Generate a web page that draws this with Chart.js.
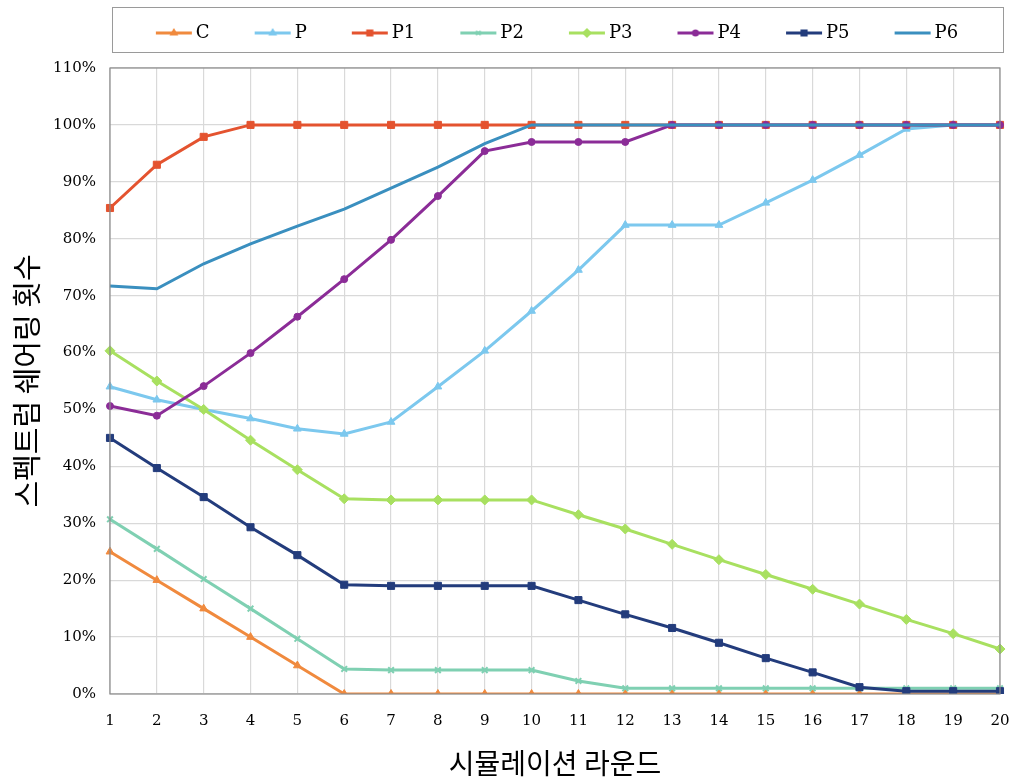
<!DOCTYPE html>
<html lang="ko">
<head>
    <meta charset="UTF-8">
    <title>스펙트럼 쉐어링 횟수</title>
    <script src="https://cdn.jsdelivr.net/npm/chart.js"></script>
    <style>
        html, body { margin: 0; padding: 0; background: #fff; overflow: hidden; }
        #wrap { width: 1014px; height: 780px; }
    </style>
</head>
<body>
    <div id="wrap"><canvas id="shareChart"></canvas></div>
    <script>
        // simulation rounds (x categories)
        const rounds = ['1', '2', '3', '4', '5', '6', '7', '8', '9', '10',
                        '11', '12', '13', '14', '15', '16', '17', '18', '19', '20'];
        const seriesNames = ['C', 'P', 'P1', 'P2', 'P3', 'P4', 'P5', 'P6'];

        // values in percent
        const cVals  = [25, 20, 15, 10, 5, 0, 0, 0, 0, 0, 0, 0, 0, 0, 0, 0, 0, 0, 0, 0];
        const pVals  = [54, 51.7, 50, 48.4, 46.6, 45.7, 47.8, 54, 60.3, 67.3, 74.5, 82.4, 82.4, 82.4, 86.3, 90.3, 94.7, 99.3, 100, 100];
        const p1Vals = [85.4, 93, 97.9, 100, 100, 100, 100, 100, 100, 100, 100, 100, 100, 100, 100, 100, 100, 100, 100, 100];
        const p2Vals = [30.7, 25.5, 20.2, 15, 9.7, 4.4, 4.2, 4.2, 4.2, 4.2, 2.3, 1, 1, 1, 1, 1, 1, 1, 1, 1];
        const p3Vals = [60.3, 55, 50, 44.6, 39.4, 34.3, 34.1, 34.1, 34.1, 34.1, 31.5, 29, 26.3, 23.6, 21, 18.4, 15.8, 13.1, 10.6, 7.9];
        const p4Vals = [50.6, 48.9, 54.1, 59.9, 66.3, 72.9, 79.8, 87.5, 95.4, 97, 97, 97, 100, 100, 100, 100, 100, 100, 100, 100];
        const p5Vals = [45, 39.7, 34.6, 29.3, 24.4, 19.2, 19, 19, 19, 19, 16.5, 14, 11.6, 9, 6.3, 3.8, 1.2, 0.5, 0.5, 0.5];
        const p6Vals = [71.7, 71.2, 75.6, 79.1, 82.2, 85.2, 88.9, 92.6, 96.7, 100, 100, 100, 100, 100, 100, 100, 100, 100, 100, 100];

        const allVals = [cVals, pVals, p1Vals, p2Vals, p3Vals, p4Vals, p5Vals, p6Vals];
        const colors  = ['#F08A3E', '#7CC8EE', '#E4532F', '#7FD0B2', '#A8E060', '#8B2C97', '#233C7C', '#3A8FBF'];
        const markers = ['triangle', 'triangle', 'rect', 'crossRot', 'rectRot', 'circle', 'rect', false];
        const radii   = [4.5, 4.5, 5, 4, 5, 3.5, 5, 0];

        const serifFont = "'DejaVu Serif', 'Liberation Serif', serif";
        const koFont = "'Noto Sans CJK KR', sans-serif";

        // legend swatch: line + marker, a bit wider than the legend box so it sits close to the text
        const boxW = 52;
        function makeSwatch(i) {
            const c = document.createElement('canvas');
            c.width = boxW + 12; c.height = 14;
            const g = c.getContext('2d');
            const x1 = c.width - 1, x0 = x1 - 36, mid = (x0 + x1) / 2;
            g.strokeStyle = colors[i];
            g.lineWidth = 3;
            g.beginPath(); g.moveTo(x0, 7); g.lineTo(x1, 7); g.stroke();
            if (markers[i] && Chart.helpers && Chart.helpers.drawPoint) {
                g.fillStyle = colors[i];
                g.lineWidth = 1.5;
                Chart.helpers.drawPoint(g, { pointStyle: markers[i], radius: radii[i] * 0.8, rotation: 0, borderWidth: 1.5 }, mid, 7);
                g.fill();
            }
            return c;
        }
        const swatches = seriesNames.map((n, i) => makeSwatch(i));

        const datasets = seriesNames.map((name, i) => ({
            label: name,
            data: allVals[i],
            borderColor: colors[i],
            backgroundColor: colors[i],
            borderWidth: 3,
            pointStyle: markers[i],
            pointRadius: radii[i],
            pointBorderWidth: markers[i] === 'crossRot' ? 2 : 1,
            tension: 0,
            order: seriesNames.length - 1 - i
        }));

        // legend box position and frame round the plot area / legend
        const legendBox = { left: 112, right: 1003, top: 8, bottom: 53 };
        const framePlugin = {
            id: 'frame',
            beforeInit(chart) {
                const fit = chart.legend.fit;
                chart.legend.fit = function () {
                    fit.bind(chart.legend)();
                    this.height = 68;
                };
            },
            afterLayout(chart) {
                // items are centred with a trailing gap, so start the legend a bit further left
                const lg = chart.legend;
                lg.left = legendBox.left - 22;
                lg.right = legendBox.right;
                lg.width = lg.right - lg.left;
            },
            afterDraw(chart) {
                const { ctx, chartArea } = chart;
                ctx.save();
                ctx.strokeStyle = '#8c8c8c';
                ctx.lineWidth = 1.2;
                ctx.strokeRect(chartArea.left, chartArea.top, chartArea.right - chartArea.left, chartArea.bottom - chartArea.top);
                ctx.strokeStyle = '#9a9a9a';
                ctx.lineWidth = 1;
                ctx.strokeRect(legendBox.left + 0.5, legendBox.top - 0.5, legendBox.right - legendBox.left, legendBox.bottom - legendBox.top);
                ctx.restore();
            }
        };

        const shareChart = new Chart(document.getElementById('shareChart'), {
            type: 'line',
            data: { labels: rounds, datasets: datasets },
            options: {
                responsive: true,
                maintainAspectRatio: false,
                animation: false,
                layout: { padding: { left: 0, right: 14, top: 0, bottom: 0 } },
                plugins: {
                    legend: {
                        position: 'top',
                        labels: {
                            usePointStyle: true,
                            pointStyleWidth: boxW,
                            padding: 24,
                            color: '#000',
                            font: { family: serifFont, size: 18 },
                            sort: (a, b) => a.datasetIndex - b.datasetIndex,
                            generateLabels(chart) {
                                const items = Chart.defaults.plugins.legend.labels.generateLabels(chart);
                                items.forEach(it => { it.pointStyle = swatches[it.datasetIndex]; });
                                return items;
                            }
                        }
                    },
                    tooltip: { enabled: false }
                },
                scales: {
                    x: {
                        offset: false,
                        afterFit(scale) {
                            scale.height = 86;
                            scale.paddingLeft = 0;
                            scale.paddingRight = 0;
                        },
                        grid: { color: '#d9d9d9', lineWidth: 1.2, drawTicks: false },
                        border: { display: false },
                        ticks: { color: '#000', font: { family: serifFont, size: 15 }, padding: 18, maxRotation: 0 },
                        title: {
                            display: true,
                            text: '시뮬레이션 라운드',
                            color: '#000',
                            font: { family: koFont, size: 28 },
                            padding: { top: 8, bottom: 0 }
                        }
                    },
                    y: {
                        min: 0,
                        max: 110,
                        afterFit(scale) { scale.width = 110; },
                        grid: { color: '#d9d9d9', lineWidth: 1.2, drawTicks: false },
                        border: { display: false },
                        ticks: {
                            stepSize: 10,
                            color: '#000',
                            font: { family: serifFont, size: 15 },
                            padding: 14,
                            callback: v => v + '%'
                        },
                        title: {
                            display: true,
                            text: '스펙트럼 쉐어링 횟수',
                            color: '#000',
                            font: { family: koFont, size: 29 },
                            padding: { top: 10, bottom: 0 }
                        }
                    }
                }
            },
            plugins: [framePlugin]
        });
    </script>
</body>
</html>
